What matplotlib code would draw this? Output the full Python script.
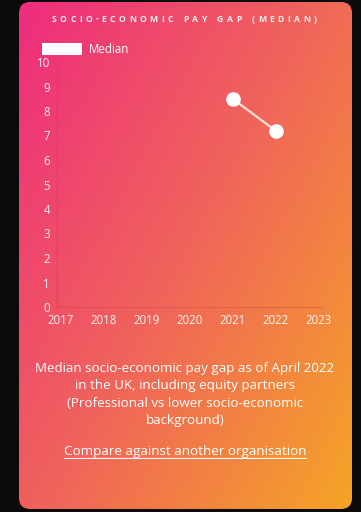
import matplotlib.pyplot as plt
import numpy as np
from matplotlib.colors import LinearSegmentedColormap
from matplotlib.lines import Line2D
from matplotlib.patches import FancyBboxPatch, Patch

plt.rcParams["font.family"] = ["Open Sans", "DejaVu Sans"]

# pay gap series (%)
years = [2021, 2022]
median_gap = [8.5, 7.2]
year_ticks = [2017, 2018, 2019, 2020, 2021, 2022, 2023]
gap_ticks = list(range(0, 11))

title = "SOCIO-ECONOMIC PAY GAP (MEDIAN)"
caption = ("Median socio-economic pay gap as of April 2022\n"
           "in the UK, including equity partners\n"
           "(Professional vs lower socio-economic\n"
           "background)")
link_text = "Compare against another organisation"

W, H = 361, 512
fig = plt.figure(figsize=(W / 100, H / 100), dpi=100)
fig.patch.set_facecolor("#0b0b0b")

# card background with a diagonal pink -> orange gradient
bg = fig.add_axes([0, 0, 1, 1])
bg.set_xlim(0, W)
bg.set_ylim(H, 0)
bg.axis("off")
grad = LinearSegmentedColormap.from_list(
    "card", ["#ee2c7e", "#f0655a", "#f5a426"])
xx, yy = np.meshgrid(np.linspace(0, 1, 200), np.linspace(0, 1, 300))
t = 0.55 * xx + 0.45 * yy
card = FancyBboxPatch((19, 2), 333, 507, boxstyle="round,pad=0,rounding_size=11",
                      facecolor="none", edgecolor="none")
bg.add_patch(card)
img = bg.imshow(t, cmap=grad, extent=(19, 352, 509, 2), aspect="auto")
img.set_clip_path(card)


def tracked_text(s, xc, y, tracking, **kw):
    # lay out characters one by one so the heading gets wide letter spacing
    renderer = fig.canvas.get_renderer()
    inv = bg.transData.inverted()
    widths = []
    for ch in s:
        probe = bg.text(0, 0, ch if ch != " " else "n", **kw)
        bb = probe.get_window_extent(renderer).transformed(inv)
        widths.append((bb.x1 - bb.x0) * (0.6 if ch == " " else 1.0))
        probe.remove()
    total = sum(widths) + tracking * (len(s) - 1)
    x = xc - total / 2
    for ch, w in zip(s, widths):
        if ch != " ":
            bg.text(x + w / 2, y, ch, ha="center", va="center", **kw)
        x += w + tracking


tracked_text(title, 184, 19, 3.4, color="white", fontsize=6.2,
             fontweight="bold", alpha=0.9)

# chart
ax = fig.add_axes([57 / W, 1 - 307 / H, (322 - 57) / W, (307 - 62) / H])
ax.set_facecolor("none")
ax.plot(years, median_gap, color="#fbe3d4", lw=1.6, marker="o", ms=9.5,
        mfc="white", mec="white", zorder=3, clip_on=False)
ax.set_xlim(2016.92, 2023.08)
ax.set_ylim(0, 10)
ax.set_xticks(year_ticks)
ax.set_yticks(gap_ticks)
ax.tick_params(length=0, colors="white", labelsize=8.3, pad=5)
ax.tick_params(axis="y", pad=5)
for s in ["top", "right"]:
    ax.spines[s].set_visible(False)
for s in ["left", "bottom"]:
    ax.spines[s].set_color((0.75, 0.2, 0.3, 0.25))
    ax.spines[s].set_linewidth(1)
for lbl in ax.get_xticklabels() + ax.get_yticklabels():
    lbl.set_alpha(0.9)

ax.legend(handles=[Patch(facecolor="white", edgecolor="none")], labels=["Median"],
          loc="lower left", bbox_to_anchor=(-0.055, 1.025), frameon=False,
          handlelength=3.4, handleheight=1.2, handletextpad=0.6,
          borderaxespad=0, borderpad=0, labelcolor="white",
          prop={"size": 8.3})

# caption and link
bg.text(185, 394.5, caption, color="white", fontsize=9.6, ha="center",
        va="center", linespacing=1.42)
link = bg.text(185, 452, link_text, color="white", fontsize=9.7,
               ha="center", va="center")
fig.canvas.draw()
bb = link.get_window_extent().transformed(bg.transData.inverted())
bg.add_line(Line2D([bb.x0, bb.x1], [bb.y0 - 1, bb.y0 - 1], color="white", lw=0.8))

fig.savefig("out.png", dpi=100, facecolor=fig.get_facecolor())
